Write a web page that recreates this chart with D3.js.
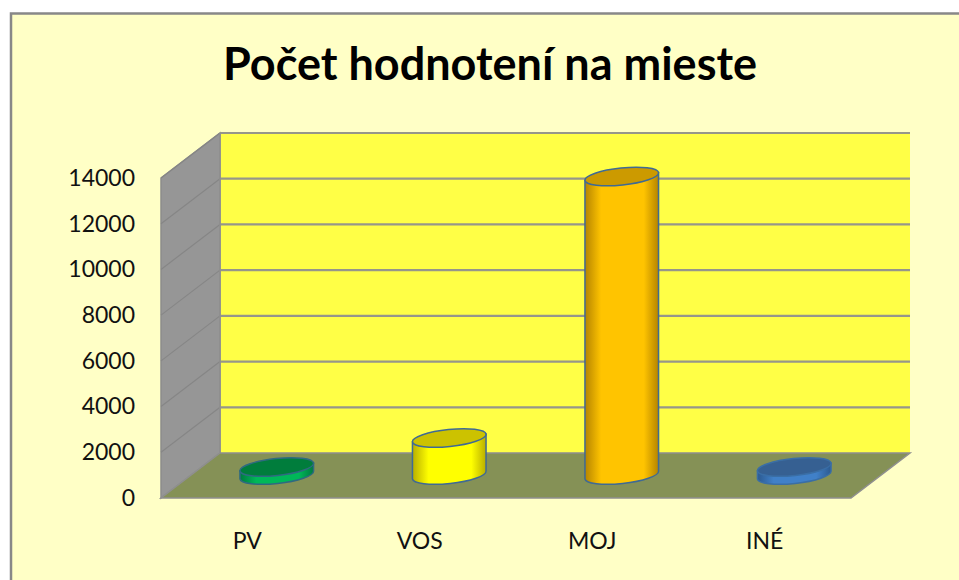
<!DOCTYPE html>
<html>
<head>
<meta charset="utf-8">
<script src="https://cdn.jsdelivr.net/npm/d3@7"></script>
<style>
html, body { margin: 0; padding: 0; background: #fff; overflow: hidden; }
svg { display: block; }
text { font-family: Lato, "Open Sans", sans-serif; fill: #111; }
</style>
</head>
<body>
<div id="chart"></div>
<script>
const width = 959;
const height = 580;

const title = "Počet hodnotení na mieste";
const categories = ["PV", "VOS", "MOJ", "INÉ"];
const values = [350, 1620, 13060, 350];
const yTicks = [0, 2000, 4000, 6000, 8000, 10000, 12000, 14000];

const sideColors = ["#00b858", "#ffff00", "#ffc400", "#4080c8"];
const sideEdges = ["#007a40", "#b8ae00", "#b58400", "#2c5a90"];
const topColors = ["#007d3c", "#ccc200", "#cc9a00", "#366092"];
const outlineColors = ["#2f6a80", "#3f6a94", "#3f6a94", "#3a6ea5"];

// front plane of the box, the back wall is the same plane pushed by depth
const front = { left: 161, right: 851, top: 178, bottom: 498 };
const depth = { x: 59, y: -45 };

const svg = d3.select("#chart")
    .append("svg")
    .attr("width", width)
    .attr("height", height);

const x = d3.scaleBand()
    .domain(categories)
    .range([front.left, front.right]);

const y = d3.scaleLinear()
    .domain([0, 14000])
    .range([front.bottom, front.top]);

const defs = svg.append("defs");
categories.forEach((c, i) => {
    const grad = defs.append("linearGradient")
        .attr("id", "side" + i)
        .attr("x1", "0").attr("x2", "1").attr("y1", "0").attr("y2", "0");
    grad.append("stop").attr("offset", "0").attr("stop-color", sideEdges[i]);
    grad.append("stop").attr("offset", "0.22").attr("stop-color", sideColors[i]);
    grad.append("stop").attr("offset", "0.8").attr("stop-color", sideColors[i]);
    grad.append("stop").attr("offset", "1").attr("stop-color", sideEdges[i]);
});

// chart area, the right and bottom border fall outside the picture
svg.append("rect")
    .attr("x", 11)
    .attr("y", 13.5)
    .attr("width", width + 20)
    .attr("height", height + 20)
    .attr("fill", "#ffffc6")
    .attr("stroke", "#888")
    .attr("stroke-width", 2.5);

svg.append("text")
    .attr("x", 490)
    .attr("y", 80)
    .attr("text-anchor", "middle")
    .style("font-size", "45px")
    .style("font-weight", 700)
    .style("fill", "#000")
    .text(title);

const line = d3.line();
const poly = pts => line(pts) + "Z";
const back = (px, py) => [px + depth.x, py + depth.y];

// back wall
svg.append("path")
    .attr("d", poly([back(front.left, front.top), back(front.right, front.top),
        back(front.right, front.bottom), back(front.left, front.bottom)]))
    .attr("fill", "#ffff46");

// left wall
svg.append("path")
    .attr("d", poly([[front.left, front.top], back(front.left, front.top),
        back(front.left, front.bottom), [front.left, front.bottom]]))
    .attr("fill", "#969696")
    .attr("stroke", "#8c8c8c")
    .attr("stroke-width", 1.5);

// floor
svg.append("path")
    .attr("d", poly([[front.left, front.bottom], [front.right, front.bottom],
        back(front.right, front.bottom), back(front.left, front.bottom)]))
    .attr("fill", "#859156")
    .attr("stroke", "#8f8f8f")
    .attr("stroke-width", 1.5);

// grid lines run along the left wall and then over the back wall
const gridLines = svg.append("g");
gridLines.selectAll("line")
    .data(yTicks.slice(1))
    .enter()
    .append("line")
    .attr("x1", front.left)
    .attr("y1", d => y(d))
    .attr("x2", front.left + depth.x)
    .attr("y2", d => y(d) + depth.y)
    .attr("stroke", "#868686")
    .attr("stroke-width", 1.2);
gridLines.selectAll("path")
    .data(yTicks.slice(1))
    .enter()
    .append("path")
    .attr("d", d => line([back(front.left, y(d)), back(front.right, y(d))]))
    .attr("fill", "none")
    .attr("stroke", "#96968a")
    .attr("stroke-width", 2.2);

svg.append("line")
    .attr("x1", front.left + depth.x)
    .attr("x2", front.left + depth.x)
    .attr("y1", front.top + depth.y)
    .attr("y2", front.bottom + depth.y)
    .attr("stroke", "#8f8f8f")
    .attr("stroke-width", 1.5);

// cylinders stand in the middle of the floor depth
const rx = 37;
const ry = 8.5;
const tilt = 6;
const dx = rx * Math.cos(tilt * Math.PI / 180);
const dy = rx * Math.sin(tilt * Math.PI / 180);
const baseY = front.bottom + depth.y / 2 - 0.5;
const centerX = d => x(d) + x.bandwidth() / 2 + depth.x / 2;
const topY = v => baseY - (y(0) - y(v));

const bars = svg.append("g")
    .selectAll("g")
    .data(categories)
    .enter()
    .append("g");

bars.append("path")
    .attr("d", (d, i) => {
        const cx = centerX(d);
        const t = topY(values[i]);
        return `M${cx - dx},${t + dy}L${cx - dx},${baseY + dy}` +
            `A${rx},${ry} ${-tilt} 0 0 ${cx + dx},${baseY - dy}` +
            `L${cx + dx},${t - dy}Z`;
    })
    .attr("fill", (d, i) => `url(#side${i})`)
    .attr("stroke", (d, i) => outlineColors[i])
    .attr("stroke-width", 1.5);

bars.append("ellipse")
    .attr("cx", 0)
    .attr("cy", 0)
    .attr("rx", rx)
    .attr("ry", ry)
    .attr("transform", (d, i) => `translate(${centerX(d)},${topY(values[i])}) rotate(${-tilt})`)
    .attr("fill", (d, i) => topColors[i])
    .attr("stroke", (d, i) => outlineColors[i])
    .attr("stroke-width", 1.5);

// axes, only their labels are visible
const yAxis = svg.append("g")
    .attr("transform", "translate(135,0)")
    .call(d3.axisLeft(y).tickValues(yTicks).tickSize(0).tickPadding(0).tickFormat(d3.format("d")));

const xAxis = svg.append("g")
    .attr("transform", "translate(0,533)")
    .call(d3.axisBottom(x).tickSize(0).tickPadding(0));

yAxis.select(".domain").remove();
xAxis.select(".domain").remove();
svg.selectAll(".tick text")
    .style("font-size", "23px")
    .style("font-family", "Lato, 'Open Sans', sans-serif")
    .style("fill", "#111");
</script>
</body>
</html>
